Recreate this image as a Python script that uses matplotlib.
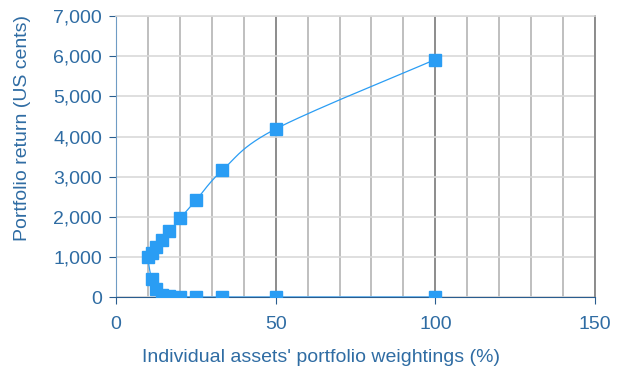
import numpy as np
import matplotlib.pyplot as plt

plt.rcParams['font.family'] = ['Liberation Sans', 'DejaVu Sans']

# portfolio weightings (%) and returns (US cents): upper branch then lower branch
weights_upper = [100, 50, 33.3, 25, 20, 16.7, 14.3, 12.5, 11.1, 10]
returns_upper = [5920, 4190, 3160, 2410, 1960, 1640, 1420, 1240, 1090, 1000]
weights_lower = [11.1, 12.5, 14.3, 16.7, 20, 25, 33.3, 50, 100]
returns_lower = [440, 190, 60, 25, 8, 0, 0, 0, 0]

x = np.array(weights_upper + weights_lower, dtype=float)
y = np.array(returns_upper + returns_lower, dtype=float)

text_col = '#2f6ca3'
mark_col = '#2a9df4'


def catmull_rom(px, py, n=30):
    # smoothed connecting line through the points, like a spreadsheet "smoothed line"
    px = np.concatenate([[px[0]], px, [px[-1]]])
    py = np.concatenate([[py[0]], py, [py[-1]]])
    xs, ys = [], []
    t = np.linspace(0, 1, n)
    for i in range(1, len(px) - 2):
        p0, p1, p2, p3 = [np.array([px[j], py[j]]) for j in (i - 1, i, i + 1, i + 2)]
        for tt in t:
            pt = 0.5 * ((2 * p1) + (-p0 + p2) * tt + (2 * p0 - 5 * p1 + 4 * p2 - p3) * tt ** 2
                        + (-p0 + 3 * p1 - 3 * p2 + p3) * tt ** 3)
            xs.append(pt[0])
            ys.append(pt[1])
    return np.array(xs), np.array(ys)


fig = plt.figure(figsize=(6.21, 3.76), dpi=100)
ax = fig.add_axes([0.187, 0.21, 0.771, 0.747])

sx, sy = catmull_rom(x, y)
ax.plot(sx, sy, color=mark_col, lw=0.9, zorder=3)
ax.plot(x, y, ls='none', marker='s', ms=8, color=mark_col, zorder=4)

ax.set_xlim(0, 150)
ax.set_ylim(0, 7000)
ax.set_xticks([0, 50, 100, 150])
ax.set_xticks(np.arange(0, 151, 10), minor=True)
ax.set_yticks(np.arange(0, 7001, 1000))
ax.set_yticklabels([f'{v:,}' for v in range(0, 7001, 1000)])

ax.grid(which='minor', axis='x', color='#b4b4b4', lw=1.2)
ax.grid(which='major', axis='x', color='#8c8c8c', lw=1.4)
ax.grid(which='major', axis='y', color='#d9d9d9', lw=1.2)
ax.set_axisbelow(True)

ax.spines['top'].set_color('#d9d9d9')
ax.spines['top'].set_linewidth(1.2)
ax.spines['right'].set_color('#8c8c8c')
ax.spines['right'].set_linewidth(1.4)
ax.spines['left'].set_color('#6f9cc4')
ax.spines['bottom'].set_color('#2a5d8f')

ax.tick_params(which='major', length=5, color='#2a5d8f', labelcolor=text_col, labelsize=14)
ax.tick_params(axis='x', which='major', pad=9)
ax.tick_params(axis='y', which='major', pad=5)
ax.tick_params(which='minor', length=0)

# axis titles placed as figure text
fig.text(0.517, 0.05, "Individual assets' portfolio weightings (%)", color=text_col,
         fontsize=14, ha='center', va='center')
fig.text(0.037, 0.66, 'Portfolio return (US cents)', color=text_col,
         fontsize=14, ha='center', va='center', rotation=90)

fig.savefig('out.png', dpi=100)
